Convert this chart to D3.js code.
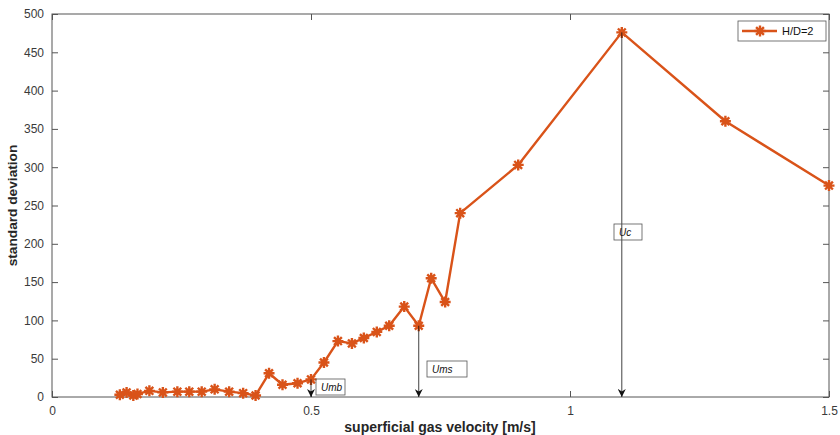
<!DOCTYPE html>
<html>
<head>
<meta charset="utf-8">
<script src="https://cdn.jsdelivr.net/npm/d3@7"></script>
<style>
  body { margin: 0; background: #fff; }
  svg { font-family: "Liberation Sans", Arial, sans-serif; }
</style>
</head>
<body>
<svg></svg>
<script>
// superficial gas velocity [m/s]
var velocity = [0.131, 0.144, 0.157, 0.165, 0.188, 0.214, 0.242, 0.265, 0.289, 0.314, 0.342, 0.369, 0.393,
   0.419, 0.445, 0.474, 0.500, 0.525, 0.552, 0.579, 0.602, 0.627, 0.651, 0.680, 0.708, 0.732, 0.759, 0.788,
   0.900, 1.100, 1.300, 1.500];
// standard deviation
var stdDev = [3, 6, 2, 4, 8, 6, 7, 7, 7, 10, 7, 5, 2,
   31, 16, 18, 23, 45, 73, 70, 77, 85, 93, 118, 93, 155, 124, 240,
   303, 476, 360, 276];

var xTicks = [0, 0.5, 1, 1.5];
var yTicks = [0, 50, 100, 150, 200, 250, 300, 350, 400, 450, 500];

// annotated transition velocities: point index + label
var marks = [
   { idx: 16, label: 'Umb', bx: 316, by: 379, bw: 29 },
   { idx: 24, label: 'Ums', bx: 427, by: 361, bw: 40 },
   { idx: 29, label: 'Uc', bx: 614, by: 224, bw: 28 }
];

var W = 840, H = 435;
var pLeft = 52, pRight = 829, pTop = 14, pBottom = 397;
var lineColor = '#D95319';
var axisColor = '#555';

var svg = d3.select('svg')
   .attr('width', W)
   .attr('height', H);

var x = d3.scaleLinear().domain([0, 1.5]).range([pLeft, pRight]);
var y = d3.scaleLinear().domain([0, 500]).range([pBottom, pTop]);

var data = velocity.map(function (v, i) { return [v, stdDev[i]]; });

// frame
svg.append('rect')
   .attr('x', pLeft).attr('y', pTop)
   .attr('width', pRight - pLeft).attr('height', pBottom - pTop)
   .attr('fill', 'none')
   .attr('stroke', axisColor)
   .attr('stroke-width', 1);

// axes with inward ticks (MATLAB style)
svg.append('g')
   .attr('transform', 'translate(0,' + pBottom + ')')
   .call(d3.axisBottom(x).tickValues(xTicks).tickSizeInner(-6).tickSizeOuter(0).tickPadding(9)
      .tickFormat(function (d) { return d3.format('~g')(d); }));
svg.append('g')
   .attr('transform', 'translate(0,' + pTop + ')')
   .call(d3.axisTop(x).tickValues(xTicks).tickSizeInner(-6).tickSizeOuter(0).tickFormat(''));
svg.append('g')
   .attr('transform', 'translate(' + pLeft + ',0)')
   .call(d3.axisLeft(y).tickValues(yTicks).tickSizeInner(-6).tickSizeOuter(0).tickPadding(8));
svg.append('g')
   .attr('transform', 'translate(' + pRight + ',0)')
   .call(d3.axisRight(y).tickValues(yTicks).tickSizeInner(-6).tickSizeOuter(0).tickFormat(''));

svg.selectAll('.domain').remove();
svg.selectAll('.tick line').attr('stroke', axisColor);
svg.selectAll('.tick text')
   .attr('fill', '#3a3a3a')
   .style('font-size', '12px')
   .style('font-family', '"Liberation Sans", Arial, sans-serif');

// axis labels
svg.append('text')
   .attr('x', 440)
   .attr('y', 432)
   .attr('text-anchor', 'middle')
   .attr('font-size', 14)
   .attr('font-weight', 'bold')
   .attr('fill', '#262626')
   .text('superficial gas velocity [m/s]');

svg.append('text')
   .attr('transform', 'translate(17,' + ((pTop + pBottom) / 2) + ') rotate(-90)')
   .attr('text-anchor', 'middle')
   .attr('font-size', 13.7)
   .attr('font-weight', 'bold')
   .attr('fill', '#262626')
   .text('standard deviation');

// arrow marker
svg.append('defs').append('marker')
   .attr('id', 'arrow')
   .attr('viewBox', '0 0 10 10')
   .attr('refX', 10).attr('refY', 5)
   .attr('markerWidth', 8).attr('markerHeight', 8)
   .attr('markerUnits', 'userSpaceOnUse')
   .attr('orient', 'auto')
   .append('path')
   .attr('d', 'M0,0 L10,5 L0,10 L3,5 Z')
   .attr('fill', '#111');

// series line
var line = d3.line()
   .x(function (d) { return x(d[0]); })
   .y(function (d) { return y(d[1]); });

svg.append('path')
   .datum(data)
   .attr('d', line)
   .attr('fill', 'none')
   .attr('stroke', lineColor)
   .attr('stroke-width', 2.4)
   .attr('stroke-linejoin', 'round');

// asterisk markers
var star = 'M-5.5,0L5.5,0M0,-5.5L0,5.5M-3.9,-3.9L3.9,3.9M-3.9,3.9L3.9,-3.9';

svg.append('g').selectAll('path')
   .data(data)
   .enter()
   .append('path')
   .attr('transform', function (d) { return 'translate(' + x(d[0]) + ',' + y(d[1]) + ')'; })
   .attr('d', star)
   .attr('stroke', lineColor)
   .attr('stroke-width', 2.4)
   .attr('fill', 'none');

// annotation arrows
svg.append('g').selectAll('line')
   .data(marks)
   .enter()
   .append('line')
   .attr('x1', function (d) { return x(velocity[d.idx]); })
   .attr('x2', function (d) { return x(velocity[d.idx]); })
   .attr('y1', function (d) { return y(stdDev[d.idx]); })
   .attr('y2', y(0))
   .attr('stroke', '#111')
   .attr('stroke-width', 0.8)
   .attr('marker-end', 'url(#arrow)');

// annotation text boxes
var boxes = svg.append('g').selectAll('g')
   .data(marks)
   .enter()
   .append('g');

boxes.append('rect')
   .attr('x', function (d) { return d.bx; })
   .attr('y', function (d) { return d.by; })
   .attr('width', function (d) { return d.bw; })
   .attr('height', 16)
   .attr('fill', 'none')
   .attr('stroke', '#555')
   .attr('stroke-width', 0.8);

boxes.append('text')
   .attr('x', function (d) { return d.bx + 5; })
   .attr('y', function (d) { return d.by + 12; })
   .attr('font-size', 10)
   .attr('font-style', 'italic')
   .attr('fill', '#111')
   .text(function (d) { return d.label; });

// legend
var legend = svg.append('g')
   .attr('transform', 'translate(738,21)');

legend.append('rect')
   .attr('width', 88).attr('height', 20)
   .attr('fill', '#fff')
   .attr('stroke', '#555')
   .attr('stroke-width', 0.8);

legend.append('line')
   .attr('x1', 4).attr('x2', 39)
   .attr('y1', 10).attr('y2', 10)
   .attr('stroke', lineColor)
   .attr('stroke-width', 2.4);

legend.append('path')
   .attr('transform', 'translate(22,10)')
   .attr('d', star)
   .attr('stroke', lineColor)
   .attr('stroke-width', 2.4);

legend.append('text')
   .attr('x', 44).attr('y', 14)
   .attr('font-size', 11)
   .attr('fill', '#111')
   .text('H/D=2');
</script>
</body>
</html>
